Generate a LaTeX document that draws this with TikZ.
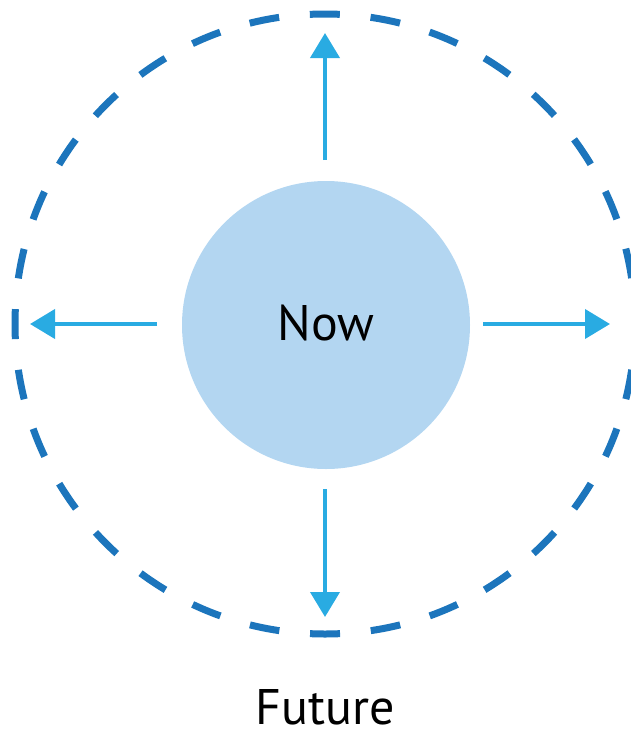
\documentclass[tikz,border=0pt]{standalone}
\usepackage{fontspec}
\setmainfont{PT Sans}
\usetikzlibrary{arrows.meta}

\definecolor{ringblue}{HTML}{1C75BC}
\definecolor{arrowblue}{HTML}{29ABE2}
\definecolor{nowblue}{HTML}{B3D6F1}

\begin{document}
\begin{tikzpicture}[x=1pt, y=-1pt,
    ring/.style={draw=ringblue, line width=7pt,
        dash pattern=on 30pt off 30.87pt, dash phase=15pt},
    outarrow/.style={draw=arrowblue, line width=4pt,
        -{Triangle[length=25pt, width=29pt]}},
    bigtext/.style={font=\fontsize{50}{60}\selectfont, inner sep=0pt, anchor=base}]

\useasboundingbox (0,0) rectangle (631,729);

% ---- horitzo (cercle discontinu) ----
\draw[ring] (325,324) circle (310);

% ---- present ----
\node[circle, fill=nowblue, minimum size=288pt, inner sep=0pt] (now) at (326,325) {};
\node[bigtext] (nowtxt) at (326,340) {Now};

% ---- fletxes cap enfora ----
\coordinate (upA) at (325,160);    \coordinate (upB) at (325,33);
\coordinate (leftA) at (157,324);  \coordinate (leftB) at (30,324);
\coordinate (rightA) at (483,324); \coordinate (rightB) at (610,324);
\coordinate (downA) at (325,489);  \coordinate (downB) at (325,617);
\draw[outarrow] (upA) -- (upB);
\draw[outarrow] (leftA) -- (leftB);
\draw[outarrow] (rightA) -- (rightB);
\draw[outarrow] (downA) -- (downB);

% ---- futur ----
\node[bigtext] (future) at (325,724) {Future};

\end{tikzpicture}
\end{document}
